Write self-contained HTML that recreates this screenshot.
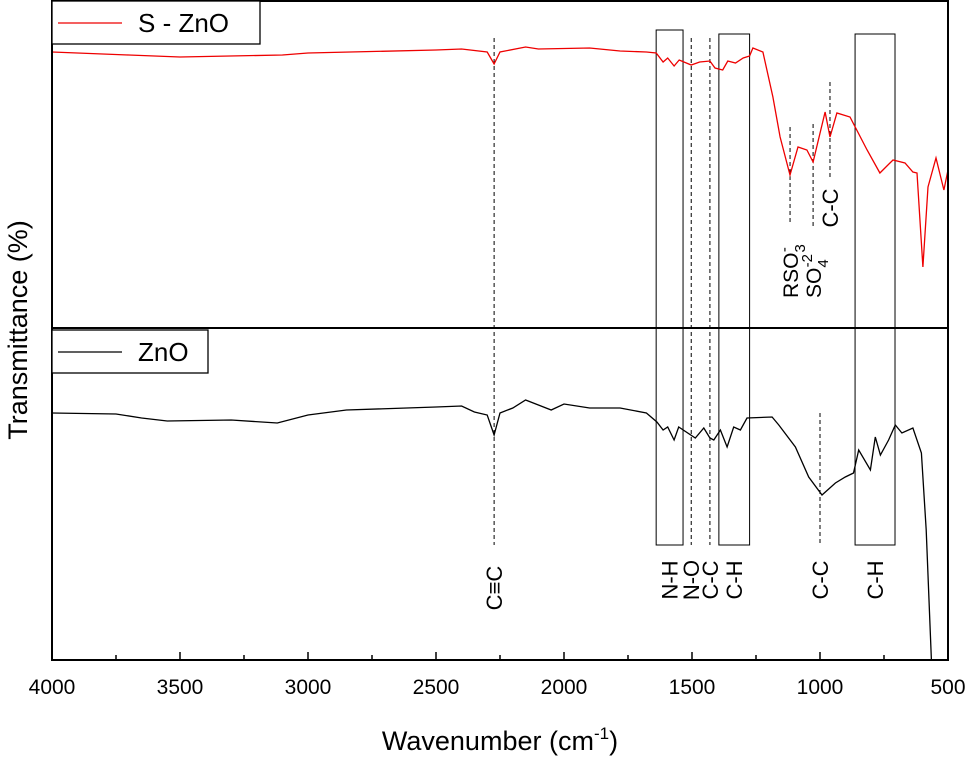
<!DOCTYPE html>
<html><head><meta charset="utf-8"><style>
body{margin:0;background:#fff}
svg{display:block;font-family:"Liberation Sans",Arial,sans-serif}
</style></head><body>
<svg id="chart" width="971" height="760" viewBox="0 0 971 760">
<g id="marks"></g>
<g id="ticks"></g>
<text x="500" y="750" font-size="27" text-anchor="middle">Wavenumber (cm<tspan font-size="17" dy="-11">-1</tspan><tspan dy="11">)</tspan></text>
<text transform="translate(27,330) rotate(-90)" font-size="27" text-anchor="middle">Transmittance (%)</text>
</svg>
<script>
const xTicks=[4000,3500,3000,2500,2000,1500,1000,500];
const szWave=[4000,3700,3500,3100,3000,2500,2400,2300,2273,2250,2150,2100,1900,1781,1678,1640,1613,1595,1570,1550,1503,1470,1430,1410,1380,1360,1330,1300,1275,1262,1223,1184,1156,1117,1086,1051,1027,980,961,934,883,816,766,715,668,637,621,598,578,547,516,500];
const szT=[276,273,271,273,275,278,279,276,264,276,281,279,280,277,276,275,266,270,262,268,263,266,267,260,258,267,265,270,272,280,276,231,191,153,181,178,166,216,191,215,211,178,155,168,165,156,155,61,141,170,138,158];
const znoWave=[4000,3750,3650,3550,3300,3120,3000,2850,2500,2400,2350,2300,2273,2250,2200,2150,2100,2050,2000,1900,1781,1678,1637,1613,1595,1570,1552,1487,1454,1430,1415,1389,1363,1337,1311,1285,1187,1161,1096,1044,992,940,901,869,849,803,784,764,732,706,680,637,604,585,565];
const znoT=[247,246,242,239,240,237,245,250,253,254,248,245,225,247,252,260,255,250,256,252,252,247,238,230,233,220,233,222,232,222,220,230,213,233,230,242,243,235,213,183,165,177,183,187,210,190,223,205,220,235,227,232,207,130,0];
const boxes=[[1640,1535],[1395,1275],[863,707]];
const dashLines=[2273,1503,1430];
const W=v=>52+(4000-v)*896/3500;
const YT=v=>328-v, YB=v=>660-v;
const ns="http://www.w3.org/2000/svg";
const m=document.getElementById('marks'), tk=document.getElementById('ticks');
function el(t,a,p){const e=document.createElementNS(ns,t);for(const k in a)e.setAttribute(k,a[k]);(p||m).appendChild(e);return e;}
function txt(s,x,y,fs,rot,p){const e=el('text',{x:0,y:0,'font-size':fs,'text-anchor':'middle',transform:`translate(${x},${y})`+(rot?' rotate(-90)':'')},p);e.textContent=s;return e;}
const cp=el('clipPath',{id:'cp'});
el('rect',{x:52,y:0,width:896,height:660},cp);
boxes.forEach((b,i)=>{const r=el('rect',{x:W(b[0]),y:i===0?30:34,width:W(b[1])-W(b[0]),height:(i===0?515:511),fill:'none',stroke:'#000','stroke-width':1});

});
dashLines.forEach(d=>{const l=el('line',{x1:W(d),x2:W(d),y1:38,y2:545,stroke:'#000','stroke-dasharray':'4,3'});

});
[[1000,413,545],[1117,127,223],[1027,124,228],[961,82,180]].forEach(d=>{const l=el('line',{x1:W(d[0]),x2:W(d[0]),y1:d[1],y2:d[2],stroke:'#000','stroke-dasharray':'4,3'});

});
const p1=el('path',{d:'M'+szWave.map((w,i)=>W(w).toFixed(1)+','+YT(szT[i])).join('L'),fill:'none',stroke:'#e00','stroke-width':1.3,'clip-path':'url(#cp)'});


const p2=el('path',{d:'M'+znoWave.map((w,i)=>W(w).toFixed(1)+','+YB(znoT[i])).join('L'),fill:'none',stroke:'#000','stroke-width':1.3,'clip-path':'url(#cp)'});


[['C≡C',2273,588],['N-H',1587,580],['N-O',1503,580],['C-C',1430,580],['C-H',1335,580],['C-C',1000,580],['C-H',785,580],['C-C',961,208]].forEach(a=>{const t=txt(a[0],W(a[1])+8,a[2],22,true);

});
let t=el('text',{transform:`translate(${W(1117)+8},298) rotate(-90)`,'font-size':21});t.innerHTML='RSO<tspan font-size="15" dy="7">3</tspan><tspan font-size="15" dy="-16" dx="-8">-</tspan>';

t=el('text',{transform:`translate(${W(1027)+8},298) rotate(-90)`,'font-size':21});t.innerHTML='SO<tspan font-size="15" dy="7">4</tspan><tspan font-size="15" dy="-16" dx="-8">-2</tspan>';

el('rect',{x:52,y:1,width:896,height:659,fill:'none',stroke:'#000','stroke-width':2},tk);
el('line',{x1:52,x2:948,y1:328,y2:328,stroke:'#000','stroke-width':2},tk);
for(let v=4000;v>=500;v-=250){const big=v%500===0;el('line',{x1:W(v),x2:W(v),y1:660,y2:big?652:655,stroke:'#000','stroke-width':1.5},tk);}
xTicks.forEach(v=>{const t=txt(v,W(v),694,21,false,tk);

});
const lg=[[1,208,'#e00','S - ZnO','legend-s-zno'],[330,156,'#000','ZnO','legend-zno']];
lg.forEach(l=>{const g=el('g',{},tk);
el('rect',{x:52,y:l[0],width:l[1],height:43,fill:'#fff',stroke:'#000','stroke-width':1.3},g);
el('line',{x1:58,x2:122,y1:l[0]+22,y2:l[0]+22,stroke:l[2],'stroke-width':1.3},g);
const t=el('text',{x:138,y:l[0]+31,'font-size':26},g);t.textContent=l[3];});
</script>
</body></html>
